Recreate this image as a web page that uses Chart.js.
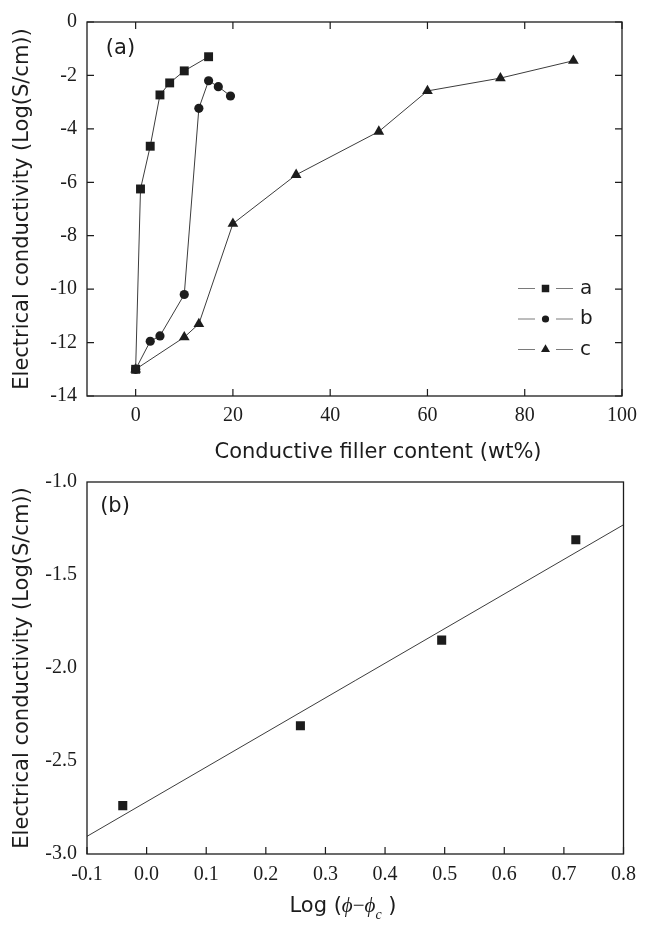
<!DOCTYPE html>
<html>
<head>
<meta charset="utf-8">
<script src="https://cdn.jsdelivr.net/npm/chart.js@4.4.0/dist/chart.umd.min.js"></script>
<style>
  html, body { margin: 0; padding: 0; background: #fff; }
  body { width: 645px; height: 925px; position: relative; overflow: hidden; }
  .box { position: absolute; left: 0; width: 645px; }
  #boxA { top: 0; height: 470px; }
  #boxB { top: 460px; height: 465px; }
</style>
</head>
<body>
<div class="box" id="boxA"><canvas id="chartA"></canvas></div>
<div class="box" id="boxB"><canvas id="chartB"></canvas></div>
<script>
// panel (a): conductivity vs. filler content
const seriesLabels = ['a', 'b', 'c'];
const aX = [0, 1, 3, 5, 7, 10, 15];
const aY = [-13, -6.25, -4.65, -2.73, -2.28, -1.83, -1.3];
const bX = [0, 3, 5, 10, 13, 15, 17, 19.5];
const bY = [-13, -11.95, -11.75, -10.2, -3.23, -2.2, -2.42, -2.77];
const cX = [0, 10, 13, 20, 33, 50, 60, 75, 90];
const cY = [-13, -11.8, -11.3, -7.55, -5.72, -4.1, -2.58, -2.1, -1.45];
const xTicksA = [0, 20, 40, 60, 80, 100];
const yTicksA = [-14, -12, -10, -8, -6, -4, -2, 0];

// panel (b): log-log plot with fitted line
const logX = [-0.04, 0.258, 0.495, 0.72];
const logY = [-2.74, -2.31, -1.85, -1.31];
const fitX = [-0.1, 0.8];
const fitY = [-2.905, -1.23];
const xTicksB = [-0.1, 0, 0.1, 0.2, 0.3, 0.4, 0.5, 0.6, 0.7, 0.8];
const yTicksB = [-3, -2.5, -2, -1.5, -1];

const ink = '#1c1c1c';
const lineInk = '#3c3c3c';
const sans = 'DejaVu Sans';
const serif = 'Liberation Serif';
const yTitle = 'Electrical conductivity (Log(S/cm))';

const toPoints = (xs, ys) => xs.map((x, i) => ({ x, y: ys[i] }));

// frame around the plot + inward tick marks
const framePlugin = {
  id: 'frame',
  afterDatasetsDraw(chart, args, opts) {
    const { ctx, chartArea: a, scales } = chart;
    const len = 7;
    ctx.save();
    ctx.strokeStyle = ink;
    ctx.lineWidth = 1.3;
    ctx.strokeRect(a.left, a.top, a.right - a.left, a.bottom - a.top);
    ctx.lineWidth = 1.2;
    ctx.beginPath();
    scales.x.ticks.forEach(t => {
      const px = scales.x.getPixelForValue(t.value);
      if (opts.bottom) { ctx.moveTo(px, a.bottom); ctx.lineTo(px, a.bottom - len); }
      if (opts.top) { ctx.moveTo(px, a.top); ctx.lineTo(px, a.top + len); }
    });
    scales.y.ticks.forEach(t => {
      const py = scales.y.getPixelForValue(t.value);
      if (opts.left) { ctx.moveTo(a.left, py); ctx.lineTo(a.left + len, py); }
      if (opts.right) { ctx.moveTo(a.right, py); ctx.lineTo(a.right - len, py); }
    });
    ctx.stroke();
    ctx.restore();
  }
};

// x titles and panel tags drawn as text pieces
const textPlugin = {
  id: 'texts',
  afterDraw(chart, args, opts) {
    const ctx = chart.ctx;
    ctx.save();
    ctx.fillStyle = ink;
    ctx.textBaseline = 'middle';
    ctx.textAlign = 'left';
    (opts.items || []).forEach(item => {
      let total = 0;
      item.parts.forEach(p => { ctx.font = p.font; total += ctx.measureText(p.text).width; });
      let x = item.cx - total / 2;
      item.parts.forEach(p => {
        ctx.font = p.font;
        ctx.fillText(p.text, x, item.cy + (p.dy || 0));
        x += ctx.measureText(p.text).width;
      });
    });
    ctx.restore();
  }
};

// legend: line - marker - line - label
const legendPlugin = {
  id: 'lineLegend',
  afterDraw(chart, args, opts) {
    if (!opts.show) return;
    const ctx = chart.ctx;
    ctx.save();
    chart.data.datasets.forEach((ds, i) => {
      const y = opts.top + i * opts.step;
      ctx.strokeStyle = '#7a7a7a';
      ctx.lineWidth = 1;
      ctx.beginPath();
      ctx.moveTo(opts.left, y); ctx.lineTo(opts.left + 17, y);
      ctx.moveTo(opts.left + 38, y); ctx.lineTo(opts.left + 55, y);
      ctx.stroke();
      ctx.fillStyle = ink;
      Chart.helpers.drawPoint(ctx, {
        pointStyle: ds.pointStyle, rotation: 0, radius: ds.pointRadius - 1, borderWidth: 0
      }, opts.left + 27.5, y);
      ctx.font = `20px ${sans}`;
      ctx.textBaseline = 'middle';
      ctx.fillText(seriesLabels[i], opts.left + 62, y);
    });
    ctx.restore();
  }
};

function axisY(min, max, ticks, fmt) {
  return {
    type: 'linear', min, max,
    grid: { display: false, drawTicks: false },
    border: { display: false },
    afterBuildTicks: s => { s.ticks = ticks.map(v => ({ value: v })); },
    afterFit: s => { s.width = 87; },
    ticks: {
      color: ink, padding: 10, autoSkip: false,
      font: { family: serif, size: 20 },
      callback: fmt
    },
    title: {
      display: true, text: yTitle, color: ink,
      font: { family: sans, size: 21 },
      padding: { top: 10, bottom: 0 }
    }
  };
}

function axisX(min, max, ticks, fmt, height, pad) {
  return {
    type: 'linear', min, max,
    grid: { display: false, drawTicks: false },
    border: { display: false },
    afterBuildTicks: s => { s.ticks = ticks.map(v => ({ value: v })); },
    afterFit: s => { s.height = height; },
    ticks: {
      color: ink, padding: pad, autoSkip: false, maxRotation: 0,
      font: { family: serif, size: 20 },
      callback: fmt
    }
  };
}

const baseOptions = {
  responsive: true,
  maintainAspectRatio: false,
  animation: false,
  events: [],
};

new Chart(document.getElementById('chartA'), {
  type: 'scatter',
  data: {
    datasets: [
      { label: seriesLabels[0], data: toPoints(aX, aY), pointStyle: 'rect', pointRadius: 6.3 },
      { label: seriesLabels[1], data: toPoints(bX, bY), pointStyle: 'circle', pointRadius: 4.6 },
      { label: seriesLabels[2], data: toPoints(cX, cY), pointStyle: 'triangle', pointRadius: 6.2 }
    ].map(ds => Object.assign(ds, {
      showLine: true, borderColor: lineInk, borderWidth: 1,
      backgroundColor: ink, pointBackgroundColor: ink, pointBorderWidth: 0
    }))
  },
  options: Object.assign({}, baseOptions, {
    layout: { padding: { top: 21, right: 17, left: 0, bottom: 0 } },
    plugins: {
      legend: { display: false },
      tooltip: { enabled: false },
      frame: { bottom: true, top: true, left: true, right: true },
      lineLegend: { show: true, left: 518, top: 288.5, step: 30.5 },
      texts: {
        items: [
          { cx: 378, cy: 452.5, parts: [{ text: 'Conductive filler content (wt%)', font: `21px ${sans}` }] },
          { cx: 120.5, cy: 49, parts: [{ text: '(a)', font: `21px ${sans}` }] }
        ]
      }
    },
    scales: {
      x: axisX(-10, 100, xTicksA, v => String(v), 74, 8),
      y: axisY(-14, 0, yTicksA, v => String(v))
    }
  }),
  plugins: [framePlugin, textPlugin, legendPlugin]
});

new Chart(document.getElementById('chartB'), {
  type: 'scatter',
  data: {
    datasets: [
      {
        label: 'fit', data: toPoints(fitX, fitY), showLine: true,
        borderColor: lineInk, borderWidth: 1, pointRadius: 0
      },
      {
        label: 'data', data: toPoints(logX, logY), showLine: false,
        pointStyle: 'rect', pointRadius: 6.4,
        backgroundColor: ink, pointBackgroundColor: ink, pointBorderWidth: 0
      }
    ]
  },
  options: Object.assign({}, baseOptions, {
    layout: { padding: { top: 19, right: 17, left: 0, bottom: 0 } },
    plugins: {
      legend: { display: false },
      tooltip: { enabled: false },
      frame: { bottom: true },
      lineLegend: { show: false },
      texts: {
        items: [
          {
            cx: 343, cy: 446.7, parts: [
              { text: 'Log (', font: `21px ${sans}` },
              { text: 'ϕ', font: `italic 21px ${serif}` },
              { text: '−', font: `21px ${serif}` },
              { text: 'ϕ', font: `italic 21px ${serif}` },
              { text: 'c', font: `italic 14px ${serif}`, dy: 9 },
              { text: ' )', font: `21px ${sans}` }
            ]
          },
          { cx: 115, cy: 47, parts: [{ text: '(b)', font: `21px ${sans}` }] }
        ]
      }
    },
    scales: {
      x: axisX(-0.1, 0.8, xTicksB, v => v.toFixed(1), 71, 9),
      y: axisY(-3, -1, yTicksB, v => v.toFixed(1))
    }
  }),
  plugins: [framePlugin, textPlugin, legendPlugin]
});
</script>
</body>
</html>
